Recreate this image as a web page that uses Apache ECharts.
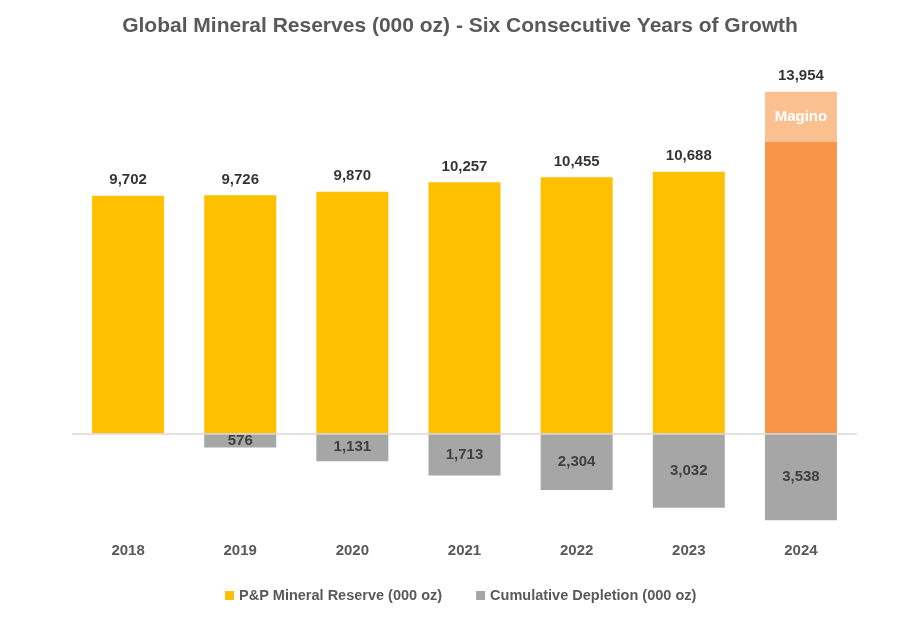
<!DOCTYPE html>
<html>
<head>
<meta charset="utf-8">
<script src="https://cdn.jsdelivr.net/npm/echarts@6/dist/echarts.min.js"></script>
<style>html,body{margin:0;padding:0;background:#fff;}#c{width:900px;height:618px;}</style>
</head>
<body>
<div id="c"></div>
<script>
const years = ['2018','2019','2020','2021','2022','2023','2024'];
const reserveBase = [9702, 9726, 9870, 10257, 10455, 10688, 11900];
const magino = [null, null, null, null, null, null, 2054];
const totals = [9702, 9726, 9870, 10257, 10455, 10688, 13954];
const depletion = [null, -576, -1131, -1713, -2304, -3032, -3538];

const font = 'Liberation Sans, Arial, sans-serif';
const fmt = v => Math.abs(v).toLocaleString('en-US');

const chart = echarts.init(document.getElementById('c'));
chart.setOption({
  animation: false,
  title: {
    text: 'Global Mineral Reserves (000 oz) - Six Consecutive Years of Growth',
    left: 455, top: 11, textAlign: 'center',
    textStyle: {fontFamily: font, fontSize: 21, fontWeight: 'bold', color: '#595959'}
  },
  legend: {
    data: ['P&P Mineral Reserve (000 oz)', 'Cumulative Depletion (000 oz)'],
    left: 220, top: 583,
    icon: 'rect', itemWidth: 9, itemHeight: 9, itemGap: 34,
    textStyle: {fontFamily: font, fontSize: 14.5, fontWeight: 'bold', color: '#595959'}
  },
  grid: {left: 72, top: 66, width: 785, height: 465.5},
  xAxis: {
    type: 'category', data: years,
    axisLine: {show: false}, axisTick: {show: false},
    axisLabel: {margin: 12, fontFamily: font, fontSize: 15, fontWeight: 'bold', color: '#595959'}
  },
  yAxis: {type: 'value', min: -4000, max: 15000, show: false, splitLine: {show: false}},
  series: [
    {
      name: 'P&P Mineral Reserve (000 oz)', type: 'bar', stack: 'a', barWidth: 72,
      itemStyle: {color: '#FFC000'},
      data: reserveBase.map((v, i) => i === 6 ? {value: v, itemStyle: {color: '#F79646'}} : v)
    },
    {
      name: 'Magino', type: 'bar', stack: 'a', barWidth: 72,
      itemStyle: {color: '#FAC090'},
      label: {show: true, position: 'inside', formatter: 'Magino',
        fontFamily: font, fontSize: 15, fontWeight: 'bold', color: '#fff'},
      data: magino
    },
    {
      name: 'Cumulative Depletion (000 oz)', type: 'bar', stack: 'a', barWidth: 72,
      itemStyle: {color: '#A6A6A6'},
      label: {show: true, position: 'inside', formatter: p => fmt(p.value),
        fontFamily: font, fontSize: 15, fontWeight: 'bold', color: '#404040'},
      markLine: {
        silent: true, symbol: 'none', label: {show: false},
        lineStyle: {color: '#D9D9D9', width: 1.5, type: 'solid'},
        data: [{yAxis: 0}]
      },
      data: depletion
    },
    {
      name: 'Total', type: 'scatter', symbolSize: 0, silent: true,
      label: {show: true, position: 'top', distance: 8, formatter: p => fmt(p.value),
        fontFamily: font, fontSize: 15, fontWeight: 'bold', color: '#000'},
      data: totals
    }
  ]
});
</script>
</body>
</html>
